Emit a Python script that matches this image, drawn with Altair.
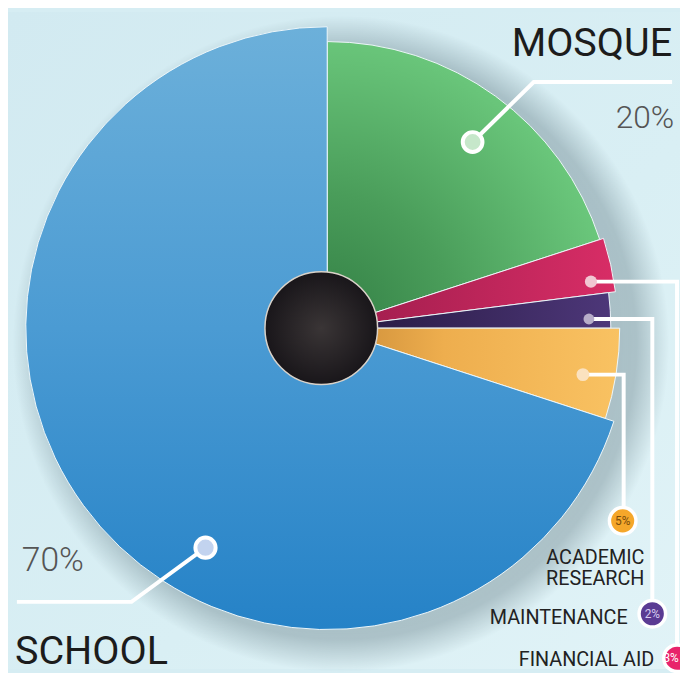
import math
import altair as alt
import pandas as pd

# ---------------- data ----------------
categories = ["Mosque", "Financial Aid", "Maintenance", "Academic Research", "School"]
shares = [20, 3, 2, 5, 70]
pct_labels = ["20%", "3%", "2%", "5%", "70%"]

# ---------------- layout / style ----------------
W, H = 680, 665
CX, CY = 323, 320
FONT = "Roboto"
TAU = 2 * math.pi

def lin(stops, x1=0, y1=0, x2=1, y2=0):
    return {"gradient": "linear", "x1": x1, "y1": y1, "x2": x2, "y2": y2,
            "stops": [{"offset": o, "color": c} for o, c in stops]}

def rad(stops, x=0.5, y=0.5, r=0.5):
    return {"gradient": "radial", "x1": x, "y1": y, "r1": 0, "x2": x, "y2": y, "r2": r,
            "stops": [{"offset": o, "color": c} for o, c in stops]}

slice_style = {
    "Mosque": (290, rad([(0, "#327e44"), (0.45, "#4a9d5a"), (1, "#6cc97d")], x=0, y=1, r=1.05)),
    "Financial Aid": (294, lin([(0, "#9c1c4b"), (1, "#d82d66")])),
    "Maintenance": (287, lin([(0, "#24173d"), (1, "#4d3779")])),
    "Academic Research": (296, lin([(0, "#c98a36"), (0.4, "#eeae4e"), (1, "#f9c262")])),
    "School": (305, lin([(0, "#6cb0da"), (0.5, "#4b9bd3"), (1, "#2582c7")], 0, 0, 0, 1)),
}

starts, acc = [], 0
for s in shares:
    starts.append(acc)
    acc += s
pie = pd.DataFrame({"cat": categories, "share": shares, "start": starts,
                    "end": [a + b for a, b in zip(starts, shares)]})

theta_scale = alt.Scale(domain=[0, 100], range=[0, TAU])

layers = []

# background
layers.append(
    alt.Chart(pd.DataFrame({"a": [0]})).mark_rect(
        fill=lin([(0, "#d2eaf1"), (0.6, "#d9eff4"), (1, "#e1f3f7")], 0, 0, 1, 1)
    ).encode(x=alt.value(0), x2=alt.value(W), y=alt.value(0), y2=alt.value(H))
)

# soft shadow under the pie (mostly to the lower right)
layers.append(
    alt.Chart(pd.DataFrame({"a": [0]})).mark_arc(
        outerRadius=332,
        fill=rad([(0, "rgba(70,95,105,0.45)"), (0.9, "rgba(70,95,105,0.32)"), (1, "rgba(70,95,105,0)")]),
    ).encode(theta=alt.value(0), theta2=alt.value(TAU), x=alt.value(CX + 14), y=alt.value(CY + 16))
)

# slices
for cat in categories:
    r, fill = slice_style[cat]
    layers.append(
        alt.Chart(pie).transform_filter(alt.datum.cat == cat).mark_arc(
            outerRadius=r, fill=fill, stroke="#eef7fa", strokeWidth=1
        ).encode(
            theta=alt.Theta("start:Q", scale=theta_scale),
            theta2="end:Q",
            x=alt.value(CX), y=alt.value(CY),
        )
    )

# centre disc
layers.append(
    alt.Chart(pd.DataFrame({"a": [0]})).mark_arc(
        outerRadius=57, stroke="#d9d2c9", strokeWidth=1.5,
        fill=rad([(0, "#3a3536"), (1, "#19161a")]),
    ).encode(theta=alt.value(0), theta2=alt.value(TAU), x=alt.value(CX - 6), y=alt.value(CY))
)

# leader lines: dot anchored on slice angle, then elbow and end
dot_angle = [38, 80, 88, 100.3, 209]
dot_r = [239, 271, 265, 263, 254]
dots_x = [CX + r * math.sin(math.radians(a)) for a, r in zip(dot_angle, dot_r)]
dots_y = [CY - r * math.cos(math.radians(a)) for a, r in zip(dot_angle, dot_r)]
elbows = [(532, 71), (677, None), (652, None), (623, None), (125, 597)]
ends = [(672, 71), (677, 650), (652, 600), (623, 505), (9, 597)]

rows = []
for i, cat in enumerate(categories):
    ex, ey = elbows[i]
    if ey is None:
        ey = dots_y[i]
    pts = [(dots_x[i], dots_y[i]), (ex, ey), ends[i]]
    for k, (px, py) in enumerate(pts):
        rows.append({"cat": cat, "k": k, "px": px, "py": py})
lines = pd.DataFrame(rows)

layers.append(
    alt.Chart(lines).mark_line(color="white", strokeWidth=4, strokeJoin="miter").encode(
        x=alt.X("px:Q", scale=None, axis=None),
        y=alt.Y("py:Q", scale=None, axis=None),
        detail="cat:N", order="k:Q",
    )
)

dots = pd.DataFrame({"cat": categories, "px": dots_x, "py": dots_y,
                     "fill": ["#c6e7ca", "#f1c6d2", "#b7adc9", "#fbe2bf", "#c2d3ef"],
                     "stroke": ["white", "#f1c6d2", "#b7adc9", "#fbe2bf", "white"],
                     "size": [400, 150, 120, 170, 420],
                     "sw": [4, 0, 0, 0, 4]})
layers.append(
    alt.Chart(dots).mark_point(shape="circle", opacity=1, filled=True).encode(
        x=alt.X("px:Q", scale=None, axis=None),
        y=alt.Y("py:Q", scale=None, axis=None),
        fill=alt.Fill("fill:N", scale=None),
        stroke=alt.Stroke("stroke:N", scale=None),
        size=alt.Size("size:Q", scale=None),
        strokeWidth=alt.StrokeWidth("sw:Q", scale=None),
    )
)

# percentage badges for the small slices
badges = pd.DataFrame({
    "txt": [pct_labels[3], pct_labels[2], pct_labels[1]],
    "px": [622, 652, 677], "py": [515, 609, 654],
    "tx": [622, 652, 671],
    "fill": ["#f5a72a", "#5a3b93", "#e8236b"],
    "tcol": ["#7a4c0c", "#d8cdf0", "#ffffff"],
})
layers.append(
    alt.Chart(badges).mark_point(shape="circle", opacity=1, filled=True, size=720,
                                 stroke="white", strokeWidth=3.5).encode(
        x=alt.X("px:Q", scale=None, axis=None),
        y=alt.Y("py:Q", scale=None, axis=None),
        fill=alt.Fill("fill:N", scale=None),
    )
)
layers.append(
    alt.Chart(badges).mark_text(font=FONT, fontSize=12, baseline="middle", align="center").encode(
        x=alt.X("tx:Q", scale=None, axis=None),
        y=alt.Y("py:Q", scale=None, axis=None),
        text="txt:N",
        color=alt.Color("tcol:N", scale=None),
    )
)

# text labels
def text_layer(df, align, size, weight, color):
    return alt.Chart(df).mark_text(font=FONT, fontSize=size, fontWeight=weight, color=color,
                                   align=align, baseline="alphabetic").encode(
        x=alt.X("px:Q", scale=None, axis=None),
        y=alt.Y("py:Q", scale=None, axis=None),
        text="txt:N",
    )

big_r = pd.DataFrame({"txt": ["MOSQUE"], "px": [672], "py": [45]})
big_l = pd.DataFrame({"txt": ["SCHOOL"], "px": [7], "py": [660]})
pct_r = pd.DataFrame({"txt": [pct_labels[0]], "px": [674], "py": [117]})
pct_l = pd.DataFrame({"txt": [pct_labels[4]], "px": [14], "py": [566]})
small = pd.DataFrame({"txt": ["ACADEMIC", "RESEARCH", "MAINTENANCE", "FINANCIAL AID"],
                      "px": [644, 644, 627, 654], "py": [559, 580, 619, 662]})

layers += [
    text_layer(big_r, "right", 40, 400, "#1c1c1c"),
    text_layer(big_l, "left", 40, 400, "#1c1c1c"),
    text_layer(pct_r, "right", 32, 300, "#555555"),
    text_layer(pct_l, "left", 34, 300, "#555555"),
    text_layer(small, "right", 20, 400, "#222222"),
]

chart = alt.layer(*layers).properties(
    width=W, height=H, padding=0, autosize=alt.AutoSizeParams(type="none"),
    background="#d6edf3",
).configure_view(stroke=None)

chart.save("out.html", embed_options={"renderer": "svg", "actions": False})
